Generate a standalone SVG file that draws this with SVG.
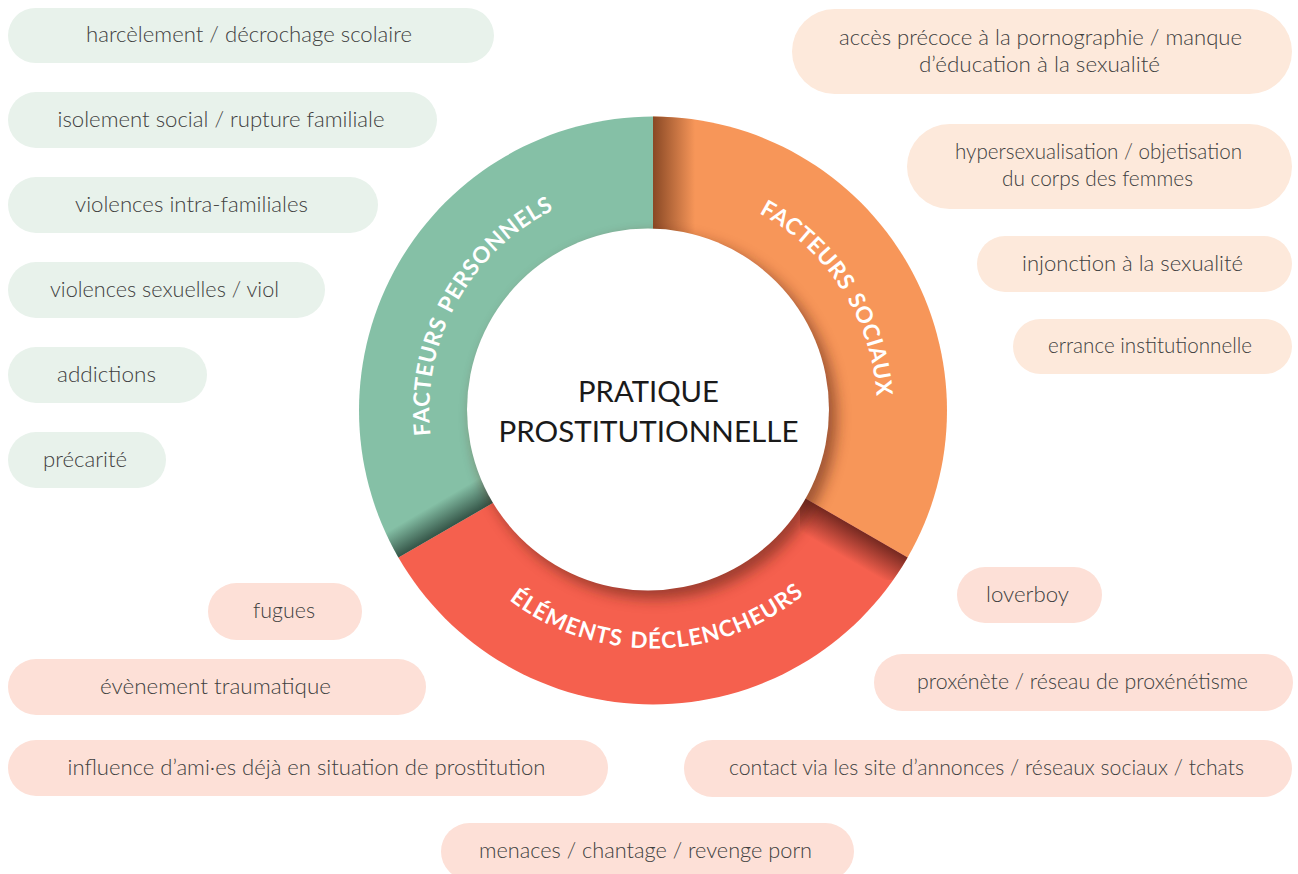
<svg xmlns="http://www.w3.org/2000/svg" width="1298" height="874" viewBox="0 0 1298 874">
<style>
.pg{fill:#e8f2eb}
.po{fill:#fde9db}
.pr{fill:#fde0d7}
.t{font-family:Lato,"Open Sans","Liberation Sans",sans-serif;font-weight:300;font-size:22px;fill:#404040;text-anchor:middle}
.c{font-family:Lato,"Open Sans","Liberation Sans",sans-serif;font-weight:400;font-size:29.5px;fill:#1a1a1a;text-anchor:middle}
.lab{font-family:Lato,"Open Sans","Liberation Sans",sans-serif;font-weight:700;font-size:22.5px;letter-spacing:0.6px;word-spacing:2px;fill:#ffffff;text-anchor:middle}
</style>
<defs>
<path id="sGreen" d="M653,410.5 L398.4,557.5 A294,294 0 0 1 653,116.5 Z"/>
<path id="sOrange" d="M653,410.5 L653,116.5 A294,294 0 0 1 907.6,557.5 Z"/>
<path id="sRed" d="M653,410.5 L907.6,557.5 A294,294 0 0 1 398.4,557.5 Z"/>
<clipPath id="cGreen"><use href="#sGreen"/></clipPath>
<clipPath id="cOrange"><use href="#sOrange"/></clipPath>
<clipPath id="cRed"><use href="#sRed"/></clipPath>
<clipPath id="cRing"><circle cx="653" cy="410.5" r="294"/></clipPath>
<linearGradient id="gO" gradientUnits="userSpaceOnUse" x1="653" y1="0" x2="695" y2="0">
<stop offset="0" stop-color="#6e3518" stop-opacity="0.8"/>
<stop offset="1" stop-color="#6e3518" stop-opacity="0"/>
</linearGradient>
<linearGradient id="gG" gradientUnits="userSpaceOnUse" x1="448" y1="528.5" x2="434" y2="504.5">
<stop offset="0" stop-color="#213a30" stop-opacity="0.8"/>
<stop offset="1" stop-color="#213a30" stop-opacity="0"/>
</linearGradient>
<linearGradient id="gR" gradientUnits="userSpaceOnUse" x1="858" y1="528.5" x2="842" y2="556">
<stop offset="0" stop-color="#5e1f18" stop-opacity="0.85"/>
<stop offset="1" stop-color="#5e1f18" stop-opacity="0"/>
</linearGradient>
<filter id="blur" x="-20%" y="-20%" width="140%" height="140%"><feGaussianBlur stdDeviation="7"/></filter>
<path id="arcP" d="M459,522 A224,224 0 0 1 653,186.5"/>
<path id="arcS" d="M653,186.5 A224,224 0 0 1 847,522.5"/>
<path id="arcR" d="M446.9,529.5 A238,238 0 0 0 859.1,529.5"/>
</defs>

<g id="connectors"></g>

<g id="ring">
<g id="segment-personnels"><use href="#sGreen" fill="#85c0a6"/></g>
<g id="segment-sociaux"><use href="#sOrange" fill="#f79659"/></g>
<g id="segment-declencheurs"><use href="#sRed" fill="#f5604e"/></g>
<g id="shadows">
<rect x="653" y="110" width="50" height="130" fill="url(#gO)" clip-path="url(#cOrange)"/>
<rect x="380" y="470" width="130" height="100" fill="url(#gG)" clip-path="url(#cGreen)"/>
<rect x="800" y="480" width="130" height="100" fill="url(#gR)" clip-path="url(#cRed)"/>
<g clip-path="url(#cRing)"><circle cx="655" cy="417" r="182" fill="#5a2414" opacity="0.55" filter="url(#blur)"/></g>
</g>
<g id="center">
<circle cx="648" cy="409.5" r="181" fill="#ffffff"/>
<text class="c" x="648.5" y="402" textLength="141" lengthAdjust="spacingAndGlyphs">PRATIQUE</text>
<text class="c" x="648.5" y="441.5" textLength="300" lengthAdjust="spacingAndGlyphs">PROSTITUTIONNELLE</text>
</g>
<text class="lab"><textPath href="#arcP" startOffset="229">FACTEURS PERSONNELS</textPath></text>
<text class="lab"><textPath href="#arcS" startOffset="224">FACTEURS SOCIAUX</textPath></text>
<text class="lab" style="letter-spacing:1px"><textPath href="#arcR" startOffset="254">ÉLÉMENTS DÉCLENCHEURS</textPath></text>
</g>

<g id="p1"><rect class="pg" x="8" y="8" width="486" height="55" rx="27.5"/><text class="t" x="249" y="42" textLength="326" lengthAdjust="spacingAndGlyphs">harcèlement / décrochage scolaire</text></g>
<g id="p2"><rect class="pg" x="8" y="92" width="429" height="56" rx="28"/><text class="t" x="221" y="126.5" textLength="327" lengthAdjust="spacingAndGlyphs">isolement social / rupture familiale</text></g>
<g id="p3"><rect class="pg" x="8" y="177" width="370" height="56" rx="28"/><text class="t" x="191.5" y="211.5" textLength="233" lengthAdjust="spacingAndGlyphs">violences intra-familiales</text></g>
<g id="p4"><rect class="pg" x="8" y="262" width="317" height="56" rx="28"/><text class="t" x="164.5" y="296.5" textLength="229" lengthAdjust="spacingAndGlyphs">violences sexuelles / viol</text></g>
<g id="p5"><rect class="pg" x="8" y="347" width="199" height="56" rx="28"/><text class="t" x="106.5" y="381.5" textLength="99" lengthAdjust="spacingAndGlyphs">addictions</text></g>
<g id="p6"><rect class="pg" x="8" y="432" width="158" height="56" rx="28"/><text class="t" x="85" y="466.5" textLength="84" lengthAdjust="spacingAndGlyphs">précarité</text></g>

<g id="p7"><rect class="po" x="792" y="9" width="500" height="85" rx="42.5"/><text class="t" x="1040.5" y="44.5" textLength="403" lengthAdjust="spacingAndGlyphs">accès précoce à la pornographie / manque</text><text class="t" x="1039.5" y="72" textLength="241" lengthAdjust="spacingAndGlyphs">d’éducation à la sexualité</text></g>
<g id="p8"><rect class="po" x="907" y="124" width="385" height="85" rx="42.5"/><text class="t" x="1098.5" y="158.5" textLength="287" lengthAdjust="spacingAndGlyphs">hypersexualisation / objetisation</text><text class="t" x="1097.5" y="186" textLength="191" lengthAdjust="spacingAndGlyphs">du corps des femmes</text></g>
<g id="p9"><rect class="po" x="977" y="236" width="315" height="56" rx="28"/><text class="t" x="1132.5" y="271" textLength="221" lengthAdjust="spacingAndGlyphs">injonction à la sexualité</text></g>
<g id="p10"><rect class="po" x="1013" y="319" width="279" height="55" rx="27.5"/><text class="t" x="1150" y="353" textLength="204" lengthAdjust="spacingAndGlyphs">errance institutionnelle</text></g>

<g id="p11"><rect class="pr" x="208" y="583" width="154" height="57" rx="28.5"/><text class="t" x="284" y="617.5" textLength="62" lengthAdjust="spacingAndGlyphs">fugues</text></g>
<g id="p12"><rect class="pr" x="8" y="659" width="418" height="56" rx="28"/><text class="t" x="215.5" y="693.5" textLength="231" lengthAdjust="spacingAndGlyphs">évènement traumatique</text></g>
<g id="p13"><rect class="pr" x="8" y="740" width="600" height="56" rx="28"/><text class="t" x="306.5" y="774.5" textLength="478" lengthAdjust="spacingAndGlyphs">influence d’ami·es déjà en situation de prostitution</text></g>
<g id="p14"><rect class="pr" x="957" y="567" width="145" height="56" rx="28"/><text class="t" x="1027.5" y="601.5" textLength="83" lengthAdjust="spacingAndGlyphs">loverboy</text></g>
<g id="p15"><rect class="pr" x="874" y="654" width="419" height="57" rx="28.5"/><text class="t" x="1082.5" y="689" textLength="331" lengthAdjust="spacingAndGlyphs">proxénète / réseau de proxénétisme</text></g>
<g id="p16"><rect class="pr" x="684" y="740" width="608" height="57" rx="28.5"/><text class="t" x="986.5" y="775" textLength="515" lengthAdjust="spacingAndGlyphs">contact via les site d’annonces / réseaux sociaux / tchats</text></g>
<g id="p17"><rect class="pr" x="441" y="823" width="413" height="57" rx="28.5"/><text class="t" x="645.5" y="858" textLength="333" lengthAdjust="spacingAndGlyphs">menaces / chantage / revenge porn</text></g>
</svg>
